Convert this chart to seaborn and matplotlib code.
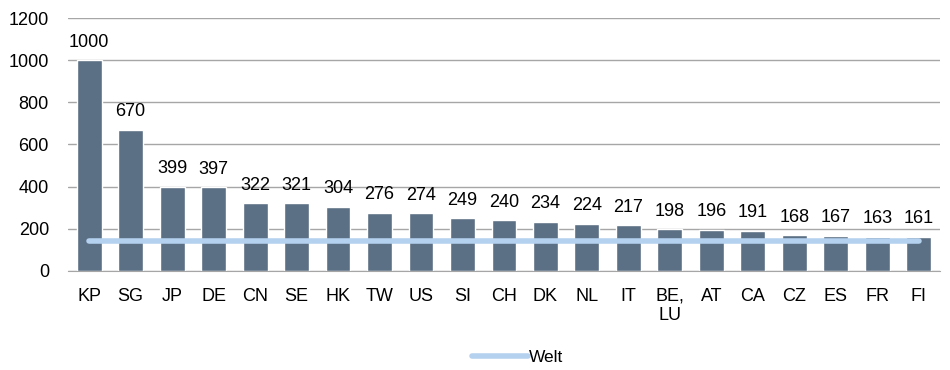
import numpy as np
import pandas as pd
import seaborn as sns
import matplotlib.pyplot as plt
from matplotlib.lines import Line2D

# values
countries = ['KP', 'SG', 'JP', 'DE', 'CN', 'SE', 'HK', 'TW', 'US', 'SI', 'CH',
             'DK', 'NL', 'IT', 'BE,\nLU', 'AT', 'CA', 'CZ', 'ES', 'FR', 'FI']
values = [1000, 670, 399, 397, 322, 321, 304, 276, 274, 249, 240,
          234, 224, 217, 198, 196, 191, 168, 167, 163, 161]
welt = [142] * len(countries)

bar_color = '#5b6f85'
line_color = '#b4d1ef'

sns.set_style('white')
plt.rcParams['font.family'] = ['Liberation Sans', 'DejaVu Sans']
plt.rcParams['text.color'] = 'black'
plt.rcParams['xtick.color'] = 'black'
plt.rcParams['ytick.color'] = 'black'

df = pd.DataFrame({'land': countries, 'wert': values, 'welt': welt})

fig = plt.figure(figsize=(9.5, 3.7), dpi=100)
ax = fig.add_axes([0.072, 0.268, 0.917, 0.683])

sns.barplot(data=df, x='land', y='wert', color=bar_color, width=0.6,
            saturation=1, ax=ax, zorder=2)
ax.plot(np.arange(len(countries)), df['welt'], color=line_color, lw=4,
        solid_capstyle='round', zorder=3)

# data labels
for i, v in enumerate(values):
    ax.text(i, v + 45, str(v), ha='center', va='bottom', fontsize=13)

ax.set_ylim(0, 1200)
ax.set_yticks(range(0, 1201, 200))
ax.set_xlim(-0.5, len(countries) - 0.5)
ax.grid(axis='y', color='#a6a6a6', lw=1, zorder=0)
ax.set_axisbelow(True)
for s in ['left', 'right', 'top']:
    ax.spines[s].set_visible(False)
ax.spines['bottom'].set_color('#a6a6a6')
ax.tick_params(axis='both', length=0, labelsize=13)
ax.tick_params(axis='x', pad=12)
ax.tick_params(axis='y', pad=14)
ax.set_xlabel('')
ax.set_ylabel('')

handle = Line2D([], [], color=line_color, lw=4, solid_capstyle='round')
fig.legend([handle], ['Welt'], loc='lower center', bbox_to_anchor=(0.545, -0.03),
           frameon=False, fontsize=12.5, handlelength=3.2, handletextpad=0.1)

fig.savefig('out.png', dpi=100)
